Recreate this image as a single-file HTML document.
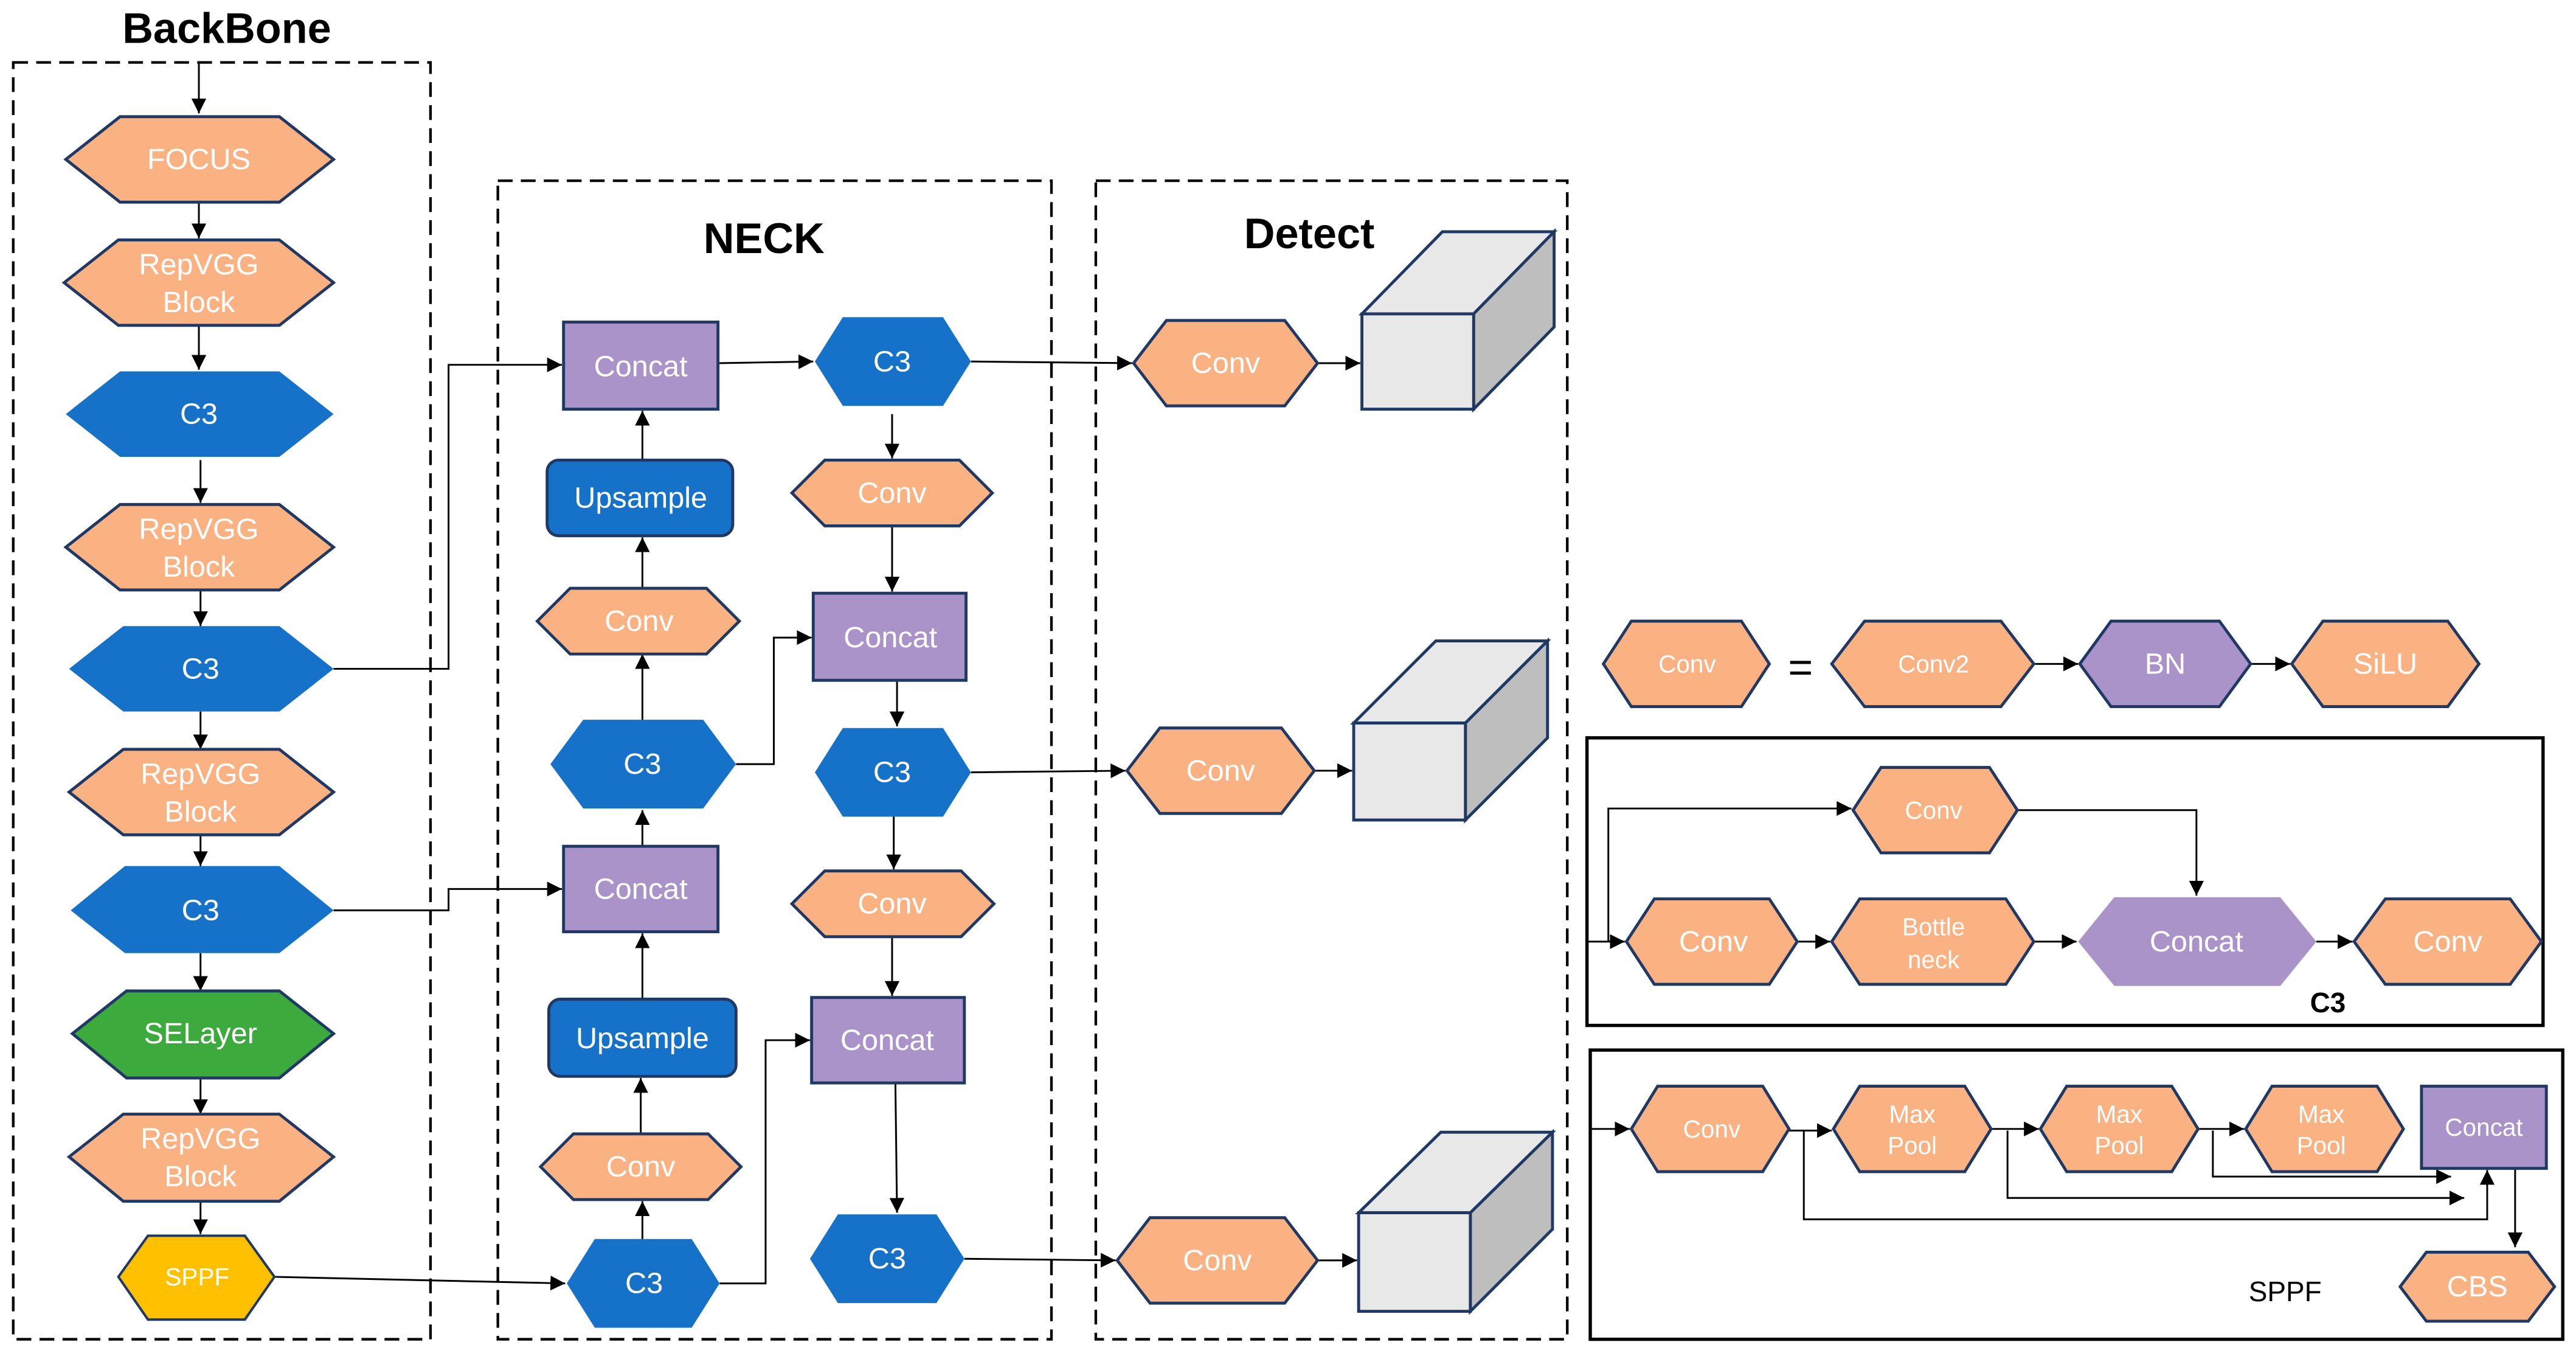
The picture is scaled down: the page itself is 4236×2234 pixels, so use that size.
<!DOCTYPE html>
<html><head><meta charset="utf-8"><style>
html,body{margin:0;padding:0;background:#fff}
svg{display:block}
text{font-family:"Liberation Sans",sans-serif}
.t{fill:#fff;font-size:18px;text-anchor:middle;dominant-baseline:central}
.s{fill:#fff;font-size:15px;text-anchor:middle;dominant-baseline:central}
.o{fill:#FBB283;stroke:#1F3864;stroke-width:1.8}
.b{fill:#1672C8}
.p{fill:#A993C9;stroke:#1F3864;stroke-width:1.8}
.l{fill:none;stroke:#000;stroke-width:1.1}
.d{fill:none;stroke:#000;stroke-width:1.6;stroke-dasharray:9 5}
.h{font-weight:bold;font-size:26px;fill:#000;text-anchor:middle;dominant-baseline:central}
</style></head><body>
<svg width="4236" height="2234" viewBox="0 0 1568 827" xmlns="http://www.w3.org/2000/svg">
<defs><marker id="a" viewBox="0 0 10 10" refX="10" refY="5" markerWidth="9" markerHeight="9" markerUnits="userSpaceOnUse" orient="auto"><path d="M0,0L10,5L0,10z" fill="#000"/></marker></defs>

<rect class="d" x="8" y="38" width="254" height="777"/>
<rect class="d" x="303" y="110" width="337" height="705"/>
<rect class="d" x="667" y="110" width="287" height="705"/>
<text class="h" x="138" y="17">BackBone</text>
<text class="h" x="465" y="145">NECK</text>
<text class="h" x="797" y="142">Detect</text>

<!-- backbone -->
<g marker-end="url(#a)" class="l">
<line x1="121" y1="38" x2="121" y2="69"/>
<line x1="121" y1="123" x2="121" y2="145"/>
<line x1="121" y1="198" x2="121" y2="225"/>
<line x1="122" y1="280" x2="122" y2="306"/>
<line x1="122" y1="359" x2="122" y2="381"/>
<line x1="122" y1="433" x2="122" y2="456"/>
<line x1="122" y1="508" x2="122" y2="527"/>
<line x1="122" y1="580" x2="122" y2="603"/>
<line x1="122" y1="656" x2="122" y2="678"/>
<line x1="122" y1="731" x2="122" y2="751"/>
<polyline points="203,407 273,407 273,222 342,222"/>
<polyline points="203,554 273,554 273,541 342,541"/>
<line x1="167" y1="777" x2="344" y2="781"/>
</g>
<polygon class="o" points="40,97 73,71 170,71 203,97 170,123 73,123"/><text class="t" x="121" y="97">FOCUS</text>
<polygon class="o" points="39,172 72,146 170,146 203,172 170,198 72,198"/><text class="t" x="121" y="161">RepVGG</text><text class="t" x="121" y="184">Block</text>
<polygon class="b" points="40,252 73,226 170,226 203,252 170,278 73,278"/><text class="t" x="121" y="252">C3</text>
<polygon class="o" points="40,333 73,307 170,307 203,333 170,359 73,359"/><text class="t" x="121" y="322">RepVGG</text><text class="t" x="121" y="345">Block</text>
<polygon class="b" points="42,407 75,381 170,381 203,407 170,433 75,433"/><text class="t" x="122" y="407">C3</text>
<polygon class="o" points="42,482 75,456 170,456 203,482 170,508 75,508"/><text class="t" x="122" y="471">RepVGG</text><text class="t" x="122" y="494">Block</text>
<polygon class="b" points="43,554 76,527 170,527 203,554 170,580 76,580"/><text class="t" x="122" y="554">C3</text>
<polygon points="44,629 77,603 170,603 203,629 170,656 77,656" fill="#3DAA3D" stroke="#1F3864" stroke-width="1.8"/><text class="t" x="122" y="629">SELayer</text>
<polygon class="o" points="42,704 75,678 170,678 203,704 170,731 75,731"/><text class="t" x="122" y="693">RepVGG</text><text class="t" x="122" y="716">Block</text>
<polygon points="72,777 90,752 149,752 167,777 149,803 90,803" fill="#FFC000" stroke="#1F3864" stroke-width="1.5"/><text class="s" x="120" y="777">SPPF</text>

<!-- neck -->
<g marker-end="url(#a)" class="l">
<line x1="391" y1="438" x2="391" y2="398"/>
<line x1="391" y1="358" x2="391" y2="327"/>
<line x1="391" y1="280" x2="391" y2="250"/>
<line x1="437" y1="221" x2="495" y2="220"/>
<line x1="543" y1="252" x2="543" y2="279"/>
<line x1="543" y1="320" x2="543" y2="360"/>
<polyline points="448,465 471,465 471,388 494,388"/>
<line x1="546" y1="414" x2="546" y2="442"/>
<line x1="544" y1="497" x2="544" y2="529"/>
<line x1="543" y1="570" x2="543" y2="606"/>
<line x1="545" y1="659" x2="546" y2="738"/>
<polyline points="438,781 466,781 466,633 493,633"/>
<line x1="391" y1="754" x2="391" y2="731"/>
<line x1="390" y1="690" x2="390" y2="656"/>
<line x1="391" y1="608" x2="391" y2="568"/>
<line x1="391" y1="515" x2="391" y2="493"/>
<line x1="591" y1="220" x2="689" y2="221"/>
<line x1="802" y1="221" x2="828" y2="221"/>
<line x1="591" y1="470" x2="685" y2="469"/>
<line x1="800" y1="469" x2="823" y2="469"/>
<line x1="587" y1="766" x2="679" y2="767"/>
<line x1="802" y1="767" x2="826" y2="767"/>
</g>
<rect class="p" x="343" y="196" width="94" height="53"/><text class="t" x="390" y="223">Concat</text>
<rect x="333" y="280" width="113" height="46" rx="7" fill="#1672C8" stroke="#1F3864" stroke-width="1.8"/><text class="t" x="390" y="303">Upsample</text>
<polygon class="o" points="327,378 347,358 430,358 450,378 430,398 347,398"/><text class="t" x="389" y="378">Conv</text>
<polygon class="b" points="335,465 355,438 428,438 448,465 428,492 355,492"/><text class="t" x="391" y="465">C3</text>
<rect class="p" x="343" y="515" width="94" height="52"/><text class="t" x="390" y="541">Concat</text>
<rect x="334" y="608" width="114" height="47" rx="7" fill="#1672C8" stroke="#1F3864" stroke-width="1.8"/><text class="t" x="391" y="632">Upsample</text>
<polygon class="o" points="329,710 349,690 431,690 451,710 431,730 349,730"/><text class="t" x="390" y="710">Conv</text>
<polygon class="b" points="345,781 362,754 421,754 438,781 421,808 362,808"/><text class="t" x="392" y="781">C3</text>
<polygon class="b" points="496,220 513,193 574,193 591,220 574,247 513,247"/><text class="t" x="543" y="220">C3</text>
<polygon class="o" points="482,300 502,280 584,280 604,300 584,320 502,320"/><text class="t" x="543" y="300">Conv</text>
<rect class="p" x="495" y="361" width="93" height="53"/><text class="t" x="542" y="388">Concat</text>
<polygon class="b" points="496,470 513,443 574,443 591,470 574,497 513,497"/><text class="t" x="543" y="470">C3</text>
<polygon class="o" points="482,550 502,530 585,530 605,550 585,570 502,570"/><text class="t" x="543" y="550">Conv</text>
<rect class="p" x="494" y="607" width="93" height="52"/><text class="t" x="540" y="633">Concat</text>
<polygon class="b" points="493,766 510,739 570,739 587,766 570,793 510,793"/><text class="t" x="540" y="766">C3</text>

<!-- detect -->
<polygon class="o" points="690,221 710,195 782,195 802,221 782,247 710,247"/><text class="t" x="746" y="221">Conv</text>
<polygon class="o" points="686,469 706,443 780,443 800,469 780,495 706,495"/><text class="t" x="743" y="469">Conv</text>
<polygon class="o" points="680,767 700,741 782,741 802,767 782,793 700,793"/><text class="t" x="741" y="767">Conv</text>
<g stroke="#1F3864" stroke-width="1.8">
<polygon points="829,191 878,141 946,141 897,191" fill="#E8E8E8"/><polygon points="897,191 946,141 946,199 897,249" fill="#BEBEBE"/><rect x="829" y="191" width="68" height="58" fill="#E8E8E8"/>
<polygon points="824,440 874,390 942,390 892,440" fill="#E8E8E8"/><polygon points="892,440 942,390 942,449 892,499" fill="#BEBEBE"/><rect x="824" y="440" width="68" height="59" fill="#E8E8E8"/>
<polygon points="827,738 877,689 945,689 895,738" fill="#E8E8E8"/><polygon points="895,738 945,689 945,748 895,798" fill="#BEBEBE"/><rect x="827" y="738" width="68" height="60" fill="#E8E8E8"/>
</g>

<!-- right legend -->
<g marker-end="url(#a)" class="l">
<line x1="1238" y1="404" x2="1265" y2="404"/>
<line x1="1370" y1="404" x2="1394" y2="404"/>
<line x1="966" y1="573" x2="989" y2="573"/>
<polyline points="979,573 979,492 1127,492"/>
<polyline points="1228,493 1337,493 1337,545"/>
<line x1="1094" y1="573" x2="1114" y2="573"/>
<line x1="1238" y1="573" x2="1264" y2="573"/>
<line x1="1410" y1="573" x2="1432" y2="573"/>
<line x1="968" y1="687" x2="992" y2="687"/>
<line x1="1089" y1="688" x2="1115" y2="688"/>
<line x1="1212" y1="687" x2="1241" y2="687"/>
<line x1="1338" y1="687" x2="1366" y2="687"/>
<polyline points="1098,688 1098,742 1514,742 1514,712"/>
<polyline points="1222,688 1222,729 1500,729"/>
<polyline points="1347,688 1347,716 1492,716"/>
<line x1="1531" y1="711" x2="1531" y2="759"/>
</g>
<polygon class="o" points="976,404 993,378 1060,378 1077,404 1060,430 993,430"/><text class="s" x="1027" y="404">Conv</text>
<text x="1096" y="406" font-size="26" text-anchor="middle" dominant-baseline="central" fill="#000">=</text>
<polygon class="o" points="1115,404 1135,378 1218,378 1238,404 1218,430 1135,430"/><text class="s" x="1177" y="404">Conv2</text>
<polygon points="1266,404 1285,378 1351,378 1370,404 1351,430 1285,430" fill="#A993C9" stroke="#1F3864" stroke-width="1.8"/><text class="t" x="1318" y="404">BN</text>
<polygon class="o" points="1395,404 1414,378 1490,378 1509,404 1490,430 1414,430"/><text class="t" x="1452" y="404">SiLU</text>

<rect x="966" y="449" width="582" height="175" fill="none" stroke="#000" stroke-width="2"/>
<polygon class="o" points="1128,493 1145,467 1211,467 1228,493 1211,519 1145,519"/><text class="s" x="1177" y="493">Conv</text>
<polygon class="o" points="990,573 1007,547 1077,547 1094,573 1077,599 1007,599"/><text class="t" x="1043" y="573">Conv</text>
<polygon class="o" points="1115,573 1132,547 1221,547 1238,573 1221,599 1132,599"/><text class="s" x="1177" y="564">Bottle</text><text class="s" x="1177" y="584">neck</text>
<polygon points="1265,573 1287,546 1388,546 1410,573 1388,600 1287,600" fill="#A993C9"/><text class="t" x="1337" y="573">Concat</text>
<polygon class="o" points="1433,573 1452,547 1528,547 1547,573 1528,599 1452,599"/><text class="t" x="1490" y="573">Conv</text>
<text x="1417" y="610" font-size="17" font-weight="bold" text-anchor="middle" dominant-baseline="central">C3</text>

<rect x="968" y="639" width="592" height="176" fill="none" stroke="#000" stroke-width="2"/>
<polygon class="o" points="993,687 1009,661 1073,661 1089,687 1073,713 1009,713"/><text class="s" x="1042" y="687">Conv</text>
<polygon class="o" points="1116,687 1132,661 1196,661 1212,687 1196,713 1132,713"/><text class="s" x="1164" y="678">Max</text><text class="s" x="1164" y="697">Pool</text>
<polygon class="o" points="1242,687 1258,661 1322,661 1338,687 1322,713 1258,713"/><text class="s" x="1290" y="678">Max</text><text class="s" x="1290" y="697">Pool</text>
<polygon class="o" points="1367,687 1383,661 1447,661 1463,687 1447,713 1383,713"/><text class="s" x="1413" y="678">Max</text><text class="s" x="1413" y="697">Pool</text>
<rect class="p" x="1474" y="661" width="76" height="50"/><text class="s" x="1512" y="686">Concat</text>
<polygon class="o" points="1461,783 1477,762 1539,762 1555,783 1539,804 1477,804"/><text class="t" x="1508" y="783">CBS</text>
<text x="1391" y="786" font-size="17" text-anchor="middle" dominant-baseline="central">SPPF</text>
</svg>
</body></html>
